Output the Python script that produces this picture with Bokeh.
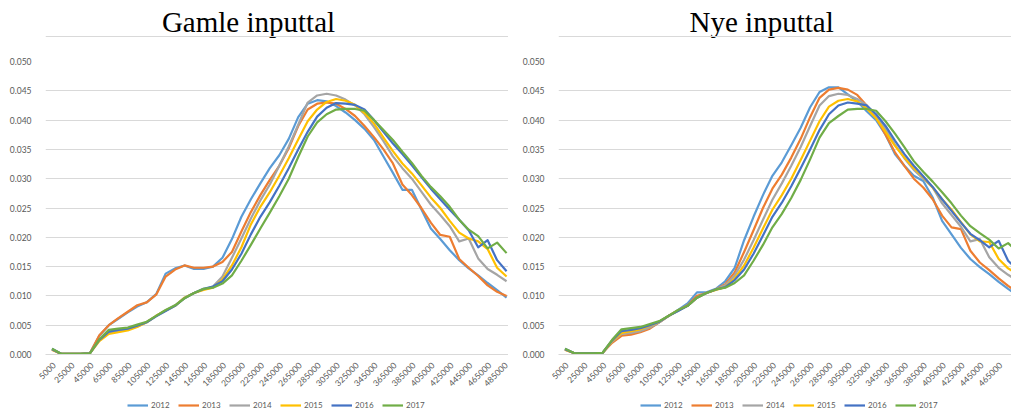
import math
from bokeh.plotting import figure
from bokeh.models import (Range1d, FixedTicker, NumeralTickFormatter,
                          Legend, LegendItem, Span, Label)
from bokeh.layouts import row, column
from bokeh.embed import file_html
from bokeh.resources import INLINE

incomes = list(range(5000, 490000, 10000))
x_tick_values = incomes[::2]
y_tick_values = [0.0, 0.005, 0.010, 0.015, 0.020, 0.025, 0.030, 0.035, 0.040, 0.045, 0.050]
years = ["2012", "2013", "2014", "2015", "2016", "2017"]
colors = ["#5B9BD5", "#ED7D31", "#A5A5A5", "#FFC000", "#4472C4", "#70AD47"]
titles = ["Gamle inputtal", "Nye inputtal"]

gamle_2012 = [0.0010, 0.0001, 0.0001, 0.0001, 0.0002, 0.0032, 0.0050, 0.0061, 0.0072, 0.0082, 0.0089, 0.0103, 0.0138, 0.0147, 0.0152, 0.0146, 0.0146, 0.0150, 0.0165, 0.0197, 0.0235, 0.0265, 0.0292, 0.0318, 0.0340, 0.0368, 0.0405, 0.0428, 0.0434, 0.0432, 0.0424, 0.0413, 0.0400, 0.0385, 0.0366, 0.0338, 0.0310, 0.0281, 0.0281, 0.0248, 0.0215, 0.0197, 0.0178, 0.0161, 0.0147, 0.0135, 0.0122, 0.0110, 0.0097]
gamle_2013 = [0.0008, 0.0001, 0.0001, 0.0001, 0.0002, 0.0033, 0.0050, 0.0062, 0.0073, 0.0084, 0.0089, 0.0102, 0.0133, 0.0145, 0.0152, 0.0148, 0.0148, 0.0150, 0.0158, 0.0175, 0.0210, 0.0243, 0.0272, 0.0298, 0.0322, 0.0352, 0.0390, 0.0418, 0.0428, 0.0430, 0.0428, 0.0419, 0.0407, 0.0390, 0.0371, 0.0350, 0.0326, 0.0290, 0.0272, 0.0250, 0.0225, 0.0204, 0.0201, 0.0163, 0.0148, 0.0134, 0.0118, 0.0107, 0.0100]
gamle_2014 = [0.0009, 0.0001, 0.0001, 0.0001, 0.0002, 0.0024, 0.0037, 0.0040, 0.0043, 0.0048, 0.0055, 0.0066, 0.0075, 0.0084, 0.0097, 0.0105, 0.0111, 0.0116, 0.0133, 0.0165, 0.0198, 0.0232, 0.0263, 0.0290, 0.0322, 0.0355, 0.0392, 0.0430, 0.0442, 0.0445, 0.0442, 0.0435, 0.0425, 0.0410, 0.0388, 0.0364, 0.0338, 0.0318, 0.0300, 0.0278, 0.0256, 0.0238, 0.0219, 0.0193, 0.0198, 0.0164, 0.0146, 0.0136, 0.0125]
gamle_2015 = [0.0008, 0.0001, 0.0001, 0.0001, 0.0002, 0.0023, 0.0035, 0.0038, 0.0041, 0.0047, 0.0055, 0.0066, 0.0075, 0.0083, 0.0097, 0.0105, 0.0110, 0.0114, 0.0128, 0.0152, 0.0183, 0.0222, 0.0252, 0.0277, 0.0305, 0.0335, 0.0367, 0.0398, 0.0418, 0.0431, 0.0436, 0.0433, 0.0426, 0.0412, 0.0394, 0.0370, 0.0347, 0.0326, 0.0309, 0.0289, 0.0268, 0.0250, 0.0228, 0.0208, 0.0198, 0.0193, 0.0180, 0.0148, 0.0133]
gamle_2016 = [0.0009, 0.0001, 0.0001, 0.0001, 0.0002, 0.0025, 0.0039, 0.0042, 0.0044, 0.0049, 0.0055, 0.0065, 0.0074, 0.0083, 0.0096, 0.0105, 0.0112, 0.0116, 0.0125, 0.0145, 0.0172, 0.0205, 0.0235, 0.0260, 0.0288, 0.0318, 0.0350, 0.0380, 0.0406, 0.0421, 0.0429, 0.0428, 0.0426, 0.0418, 0.0400, 0.0380, 0.0360, 0.0342, 0.0323, 0.0303, 0.0283, 0.0265, 0.0247, 0.0230, 0.0212, 0.0183, 0.0195, 0.0161, 0.0142]
gamle_2017 = [0.0010, 0.0001, 0.0001, 0.0001, 0.0002, 0.0026, 0.0042, 0.0044, 0.0046, 0.0051, 0.0056, 0.0066, 0.0076, 0.0084, 0.0096, 0.0105, 0.0112, 0.0114, 0.0121, 0.0135, 0.0160, 0.0187, 0.0215, 0.0242, 0.0270, 0.0300, 0.0337, 0.0372, 0.0396, 0.0410, 0.0418, 0.0419, 0.0419, 0.0416, 0.0400, 0.0383, 0.0366, 0.0346, 0.0327, 0.0305, 0.0286, 0.0270, 0.0252, 0.0230, 0.0213, 0.0202, 0.0181, 0.0191, 0.0173]

nye_2012 = [0.0010, 0.0002, 0.0002, 0.0002, 0.0003, 0.0022, 0.0036, 0.0037, 0.0040, 0.0046, 0.0055, 0.0066, 0.0076, 0.0087, 0.0106, 0.0106, 0.0112, 0.0125, 0.0148, 0.0195, 0.0235, 0.0272, 0.0305, 0.0328, 0.0357, 0.0387, 0.0422, 0.0448, 0.0456, 0.0456, 0.0444, 0.0432, 0.0415, 0.0400, 0.0375, 0.0342, 0.0322, 0.0305, 0.0296, 0.0268, 0.0228, 0.0205, 0.0182, 0.0163, 0.0149, 0.0137, 0.0124, 0.0112, 0.0101]
nye_2013 = [0.0008, 0.0002, 0.0002, 0.0002, 0.0003, 0.0020, 0.0032, 0.0034, 0.0038, 0.0044, 0.0055, 0.0066, 0.0075, 0.0084, 0.0100, 0.0105, 0.0111, 0.0120, 0.0140, 0.0175, 0.0212, 0.0250, 0.0283, 0.0307, 0.0336, 0.0368, 0.0405, 0.0438, 0.0452, 0.0455, 0.0452, 0.0443, 0.0425, 0.0405, 0.0375, 0.0345, 0.0322, 0.0300, 0.0285, 0.0265, 0.0237, 0.0217, 0.0214, 0.0177, 0.0157, 0.0144, 0.0130, 0.0117, 0.0106]
nye_2014 = [0.0009, 0.0002, 0.0002, 0.0002, 0.0003, 0.0022, 0.0035, 0.0037, 0.0040, 0.0046, 0.0055, 0.0066, 0.0075, 0.0083, 0.0097, 0.0105, 0.0111, 0.0118, 0.0135, 0.0162, 0.0195, 0.0230, 0.0264, 0.0292, 0.0322, 0.0354, 0.0390, 0.0425, 0.0441, 0.0445, 0.0443, 0.0436, 0.0425, 0.0408, 0.0385, 0.0358, 0.0335, 0.0315, 0.0300, 0.0285, 0.0258, 0.0238, 0.0218, 0.0193, 0.0197, 0.0166, 0.0148, 0.0136, 0.0126]
nye_2015 = [0.0008, 0.0002, 0.0002, 0.0002, 0.0003, 0.0023, 0.0037, 0.0040, 0.0043, 0.0049, 0.0056, 0.0066, 0.0075, 0.0083, 0.0097, 0.0105, 0.0110, 0.0115, 0.0130, 0.0152, 0.0182, 0.0215, 0.0247, 0.0272, 0.0300, 0.0332, 0.0365, 0.0398, 0.0423, 0.0433, 0.0436, 0.0432, 0.0420, 0.0403, 0.0380, 0.0356, 0.0336, 0.0318, 0.0303, 0.0285, 0.0265, 0.0247, 0.0226, 0.0205, 0.0193, 0.0192, 0.0163, 0.0147, 0.0137]
nye_2016 = [0.0009, 0.0002, 0.0002, 0.0002, 0.0003, 0.0024, 0.0040, 0.0042, 0.0045, 0.0050, 0.0056, 0.0066, 0.0074, 0.0083, 0.0097, 0.0105, 0.0111, 0.0115, 0.0127, 0.0145, 0.0172, 0.0203, 0.0235, 0.0259, 0.0287, 0.0318, 0.0350, 0.0383, 0.0410, 0.0425, 0.0430, 0.0428, 0.0425, 0.0410, 0.0390, 0.0365, 0.0342, 0.0322, 0.0304, 0.0286, 0.0265, 0.0245, 0.0225, 0.0206, 0.0195, 0.0183, 0.0194, 0.0160, 0.0145]
nye_2017 = [0.0010, 0.0002, 0.0002, 0.0002, 0.0003, 0.0025, 0.0043, 0.0045, 0.0047, 0.0052, 0.0057, 0.0066, 0.0076, 0.0083, 0.0097, 0.0105, 0.0111, 0.0114, 0.0122, 0.0135, 0.0160, 0.0187, 0.0217, 0.0240, 0.0267, 0.0298, 0.0333, 0.0370, 0.0395, 0.0407, 0.0418, 0.0419, 0.0419, 0.0416, 0.0398, 0.0377, 0.0354, 0.0330, 0.0312, 0.0295, 0.0277, 0.0258, 0.0237, 0.0219, 0.0207, 0.0196, 0.0181, 0.0190, 0.0175]

gamle = [gamle_2012, gamle_2013, gamle_2014, gamle_2015, gamle_2016, gamle_2017]
nye = [nye_2012, nye_2013, nye_2014, nye_2015, nye_2016, nye_2017]

FONT = "Lato"
GRAY_TXT = "#595959"
GRID = "#D9D9D9"
LABEL_SHIFT = 2000  # small nudge of the rotated tick labels towards their category point


def bare(width, height, left, x_range, y_range):
    f = figure(width=width, height=height, toolbar_location=None, output_backend="svg",
               x_range=x_range, y_range=y_range,
               x_axis_location=None, y_axis_location=None,
               min_border_left=left, min_border_right=0, min_border_top=0, min_border_bottom=0)
    f.grid.visible = False
    f.outline_line_color = None
    return f


def make_title(text, width, left, frame_w, center):
    # the strip's frame lines up with the chart frame below it (column alignment)
    t = bare(width, 49, left, Range1d(0, frame_w), Range1d(0, 49))
    t.add_layout(Label(x=center, y=28, text=text, text_align="center", text_baseline="alphabetic",
                       text_font="Liberation Serif", text_font_size="29px", text_color="#000000"))
    t.add_layout(Span(location=13, dimension="width", line_color=GRID, line_width=1))
    return t


def make_chart(series, width, left, x_end):
    p = figure(width=width, height=343, toolbar_location=None, output_backend="svg",
               x_range=Range1d(-1864, x_end), y_range=Range1d(0, 0.05),
               min_border_left=left, min_border_right=0, min_border_top=12, min_border_bottom=37)
    p.outline_line_color = None
    for yr, col, vals in zip(years, colors, series):
        p.line(incomes, vals, line_color=col, line_width=2.2, line_join="round")

    p.xgrid.visible = False
    p.ygrid.ticker = FixedTicker(ticks=y_tick_values)
    p.ygrid.grid_line_color = GRID
    p.ygrid.grid_line_width = 1

    ya = p.yaxis[0]
    ya.ticker = FixedTicker(ticks=y_tick_values)
    ya.formatter = NumeralTickFormatter(format="0.000")
    ya.axis_line_color = None
    ya.major_tick_line_color = None
    ya.minor_tick_line_color = None
    ya.major_label_standoff = 8
    ya.major_label_text_font = FONT
    ya.major_label_text_font_size = "8.5px"
    ya.major_label_text_color = GRAY_TXT

    xa = p.xaxis[0]
    label_pos = [v + LABEL_SHIFT for v in x_tick_values]
    xa.ticker = FixedTicker(ticks=label_pos)
    xa.major_label_overrides = {pos: str(v) for pos, v in zip(label_pos, x_tick_values)}
    xa.axis_line_color = GRID
    xa.major_tick_line_color = None
    xa.minor_tick_line_color = None
    xa.major_label_orientation = math.pi / 4
    xa.major_label_standoff = 3
    xa.major_label_text_font = FONT
    xa.major_label_text_font_size = "8.5px"
    xa.major_label_text_color = GRAY_TXT
    return p


def make_legend(series, width, left_px):
    # the series are drawn outside this strip's visible range; only their legend keys show
    f = bare(width, 18, 0, Range1d(0, 1), Range1d(0, 1))
    items = []
    for yr, col, vals in zip(years, colors, series):
        r = f.line(incomes, vals, line_color=col, line_width=2.2)
        items.append(LegendItem(label=yr, renderers=[r]))
    leg = Legend(items=items, orientation="horizontal", location=(left_px, 0),
                 glyph_width=21, glyph_height=10, label_standoff=3, spacing=7,
                 padding=1, margin=0, border_line_color=None, background_fill_alpha=0,
                 label_text_font=FONT, label_text_font_size="8px", label_text_color=GRAY_TXT,
                 label_height=10)
    f.add_layout(leg, "center")
    return f


left = column(make_title(titles[0], 508, 8, 463, 203),
              make_chart(gamle, 508, 45, 487038),
              make_legend(gamle, 508, 82))
right = column(make_title(titles[1], 492, 0, 455, 204),
               make_chart(nye, 492, 37, 478600),
               make_legend(nye, 492, 82))
page = row(left, right, spacing=11)

open("out.html", "w").write(file_html(page, INLINE))
